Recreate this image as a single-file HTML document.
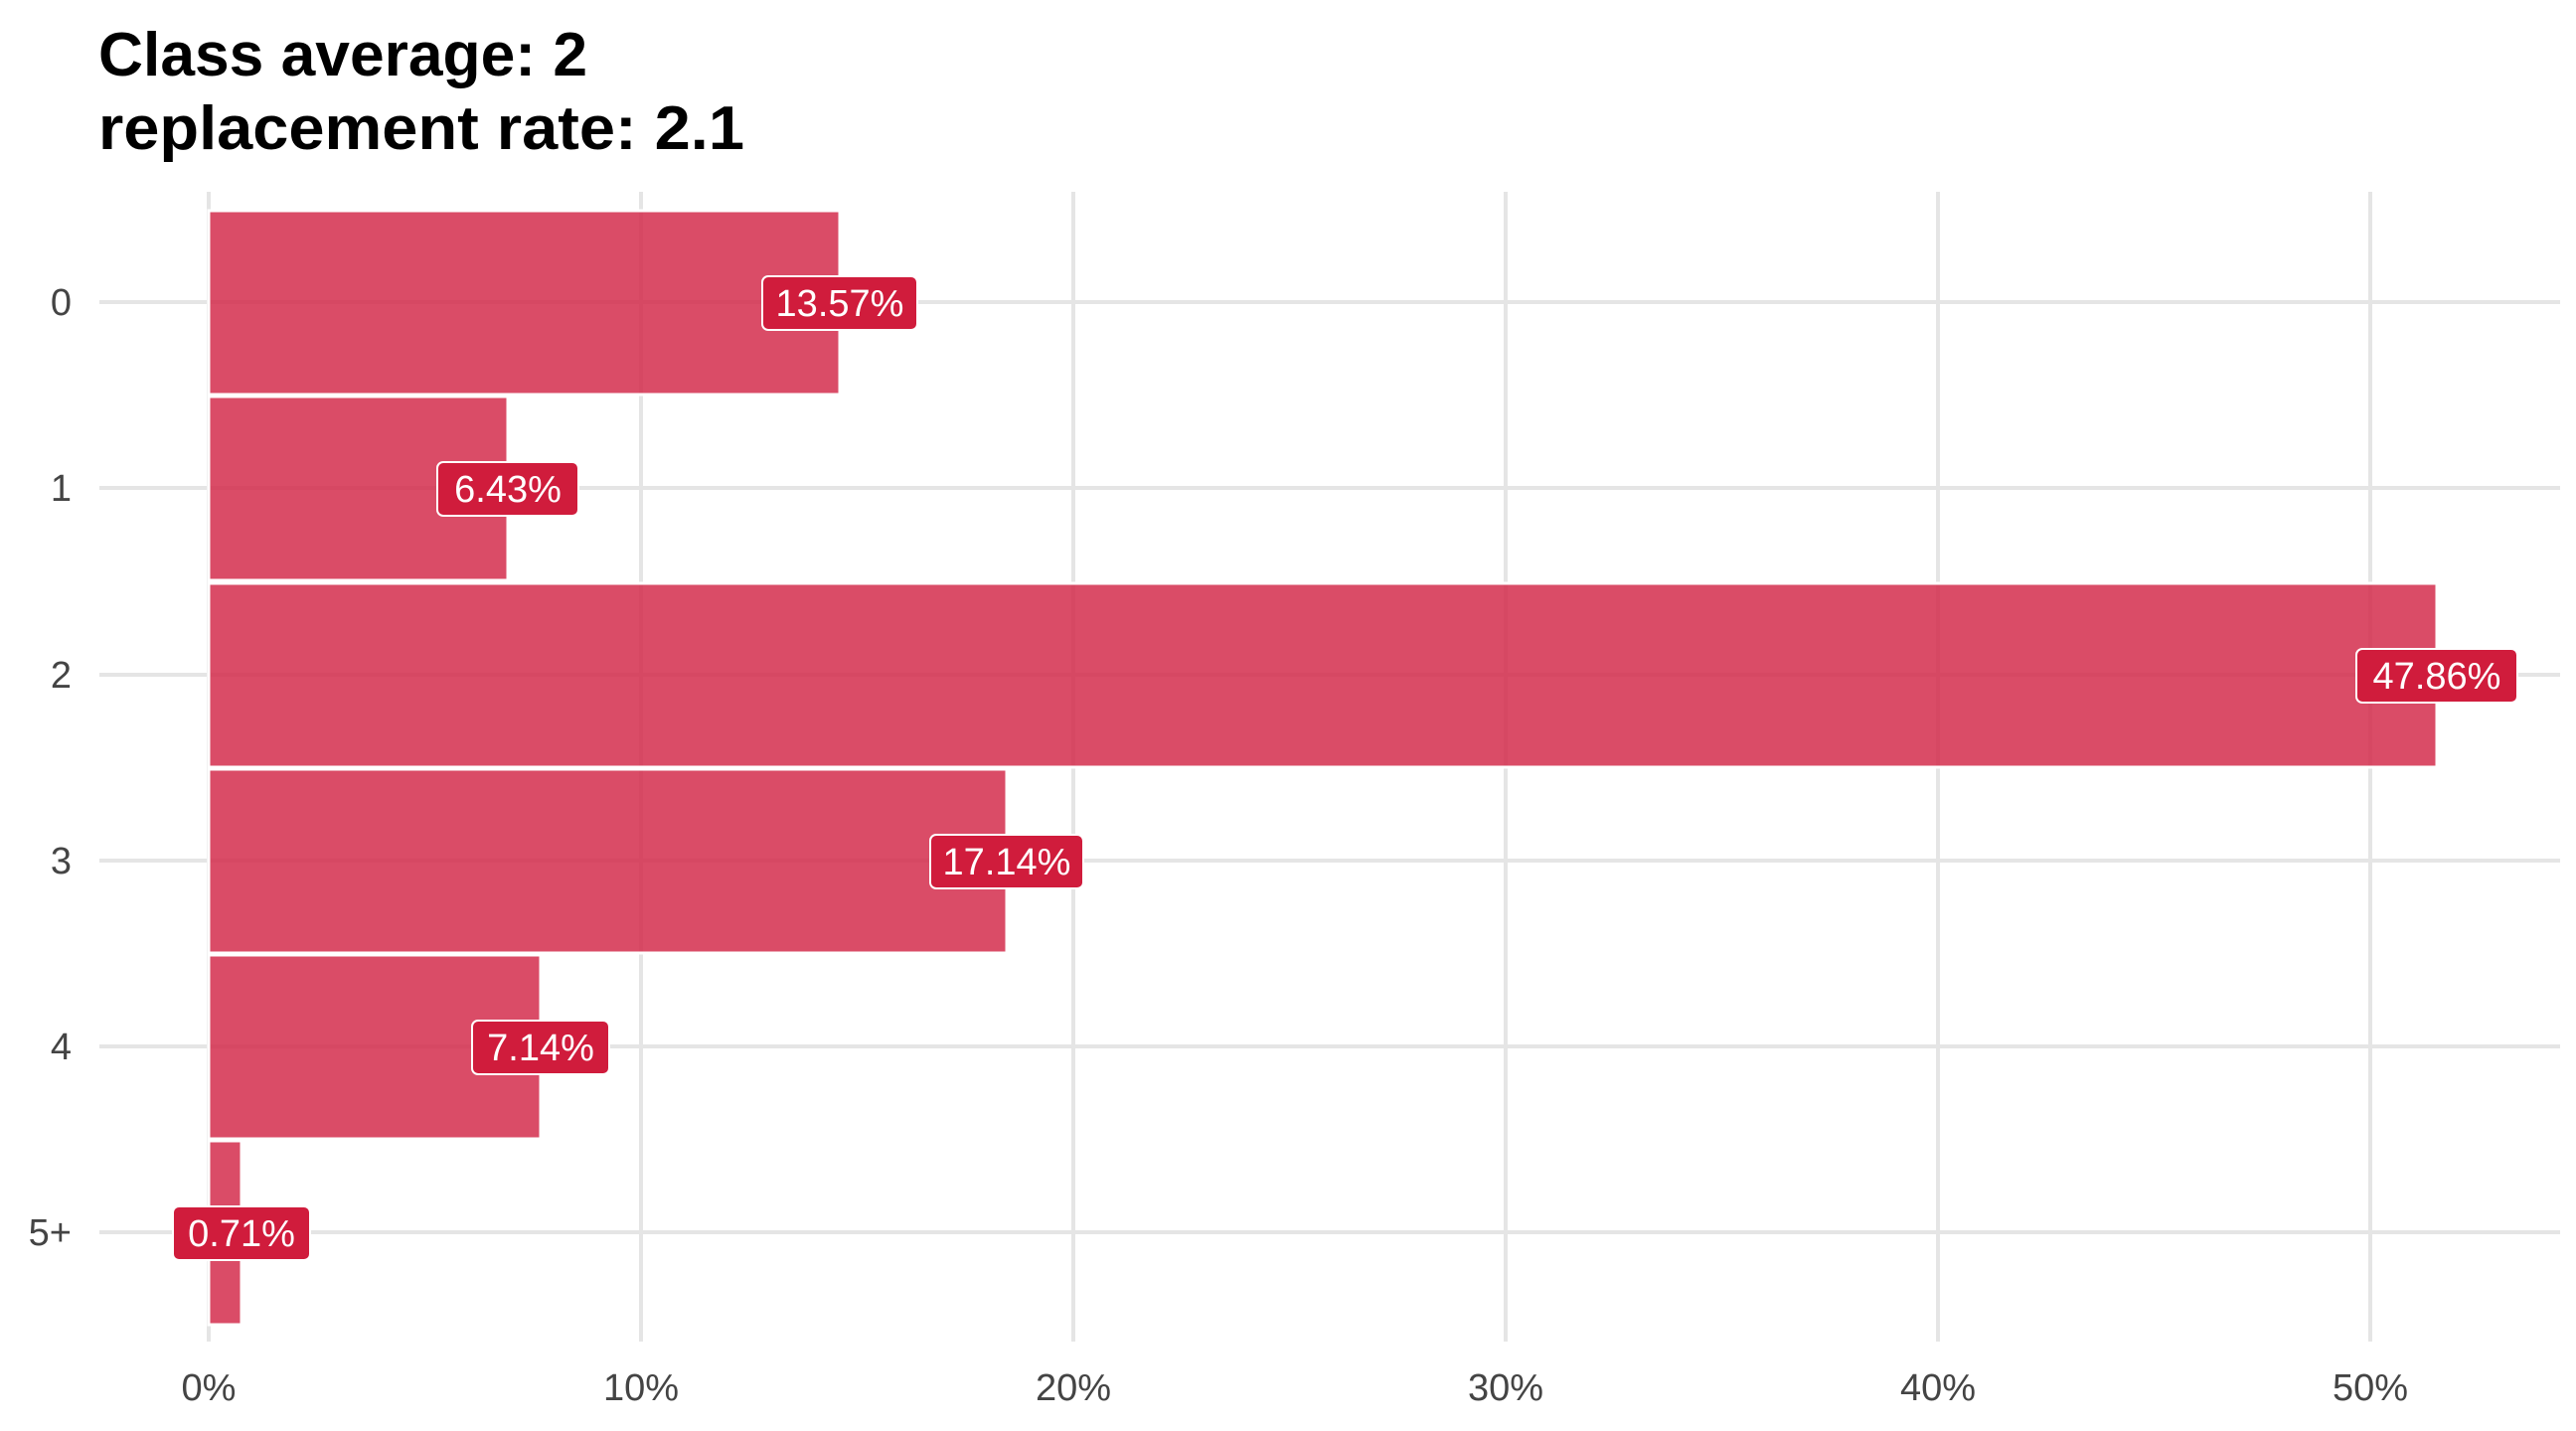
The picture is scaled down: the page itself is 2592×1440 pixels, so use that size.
<!DOCTYPE html>
<html><head><meta charset="utf-8"><style>
html,body{margin:0;padding:0;background:#fff;}
svg{display:block;}
text{font-family:"Liberation Sans",sans-serif;}
</style></head><body>
<svg width="2592" height="1440" viewBox="0 0 2592 1440" xmlns="http://www.w3.org/2000/svg">
<rect width="2592" height="1440" fill="#fff"/>
<g font-weight="bold" font-size="62" fill="#000">
<text x="99" y="76" textLength="492" lengthAdjust="spacingAndGlyphs">Class average: 2</text>
<text x="99" y="150" textLength="650" lengthAdjust="spacingAndGlyphs">replacement rate: 2.1</text>
</g>
<g stroke="#e5e5e5" stroke-width="4">
<line x1="210" y1="193" x2="210" y2="1350"/>
<line x1="645" y1="193" x2="645" y2="1350"/>
<line x1="1080" y1="193" x2="1080" y2="1350"/>
<line x1="1515" y1="193" x2="1515" y2="1350"/>
<line x1="1950" y1="193" x2="1950" y2="1350"/>
<line x1="2385" y1="193" x2="2385" y2="1350"/>
<line x1="100" y1="304" x2="2576" y2="304"/>
<line x1="100" y1="491" x2="2576" y2="491"/>
<line x1="100" y1="679" x2="2576" y2="679"/>
<line x1="100" y1="866" x2="2576" y2="866"/>
<line x1="100" y1="1053" x2="2576" y2="1053"/>
<line x1="100" y1="1240" x2="2576" y2="1240"/>
</g>
<g fill="#d22545" fill-opacity="0.82" stroke="#fff" stroke-width="3">
<rect x="210" y="212" width="635" height="185"/>
<rect x="210" y="399" width="301" height="185"/>
<rect x="210" y="587" width="2242" height="185"/>
<rect x="210" y="774" width="803" height="185"/>
<rect x="210" y="961" width="334" height="185"/>
<rect x="210" y="1148" width="33" height="185"/>
</g>
<g font-size="38" fill="#444" text-anchor="end">
<text x="72" y="317">0</text>
<text x="72" y="504">1</text>
<text x="72" y="692">2</text>
<text x="72" y="879">3</text>
<text x="72" y="1066">4</text>
<text x="72" y="1253">5+</text>
</g>
<g font-size="38" fill="#444" text-anchor="middle">
<text x="210" y="1409">0%</text>
<text x="645" y="1409">10%</text>
<text x="1080" y="1409">20%</text>
<text x="1515" y="1409">30%</text>
<text x="1950" y="1409">40%</text>
<text x="2385" y="1409">50%</text>
</g>
<g stroke="#fff" stroke-width="2" fill="#d01c3c">
<rect x="767" y="278" width="156" height="54" rx="6"/>
<rect x="440" y="465" width="142" height="54" rx="6"/>
<rect x="2371" y="653" width="162" height="54" rx="6"/>
<rect x="936" y="840" width="154" height="54" rx="6"/>
<rect x="475" y="1027" width="138" height="54" rx="6"/>
<rect x="174" y="1214" width="138" height="54" rx="6"/>
</g>
<g font-size="38" fill="#fff" text-anchor="middle">
<text x="845" y="318">13.57%</text>
<text x="511" y="505">6.43%</text>
<text x="2452" y="693">47.86%</text>
<text x="1013" y="880">17.14%</text>
<text x="544" y="1067">7.14%</text>
<text x="243" y="1254">0.71%</text>
</g>
</svg>
</body></html>
